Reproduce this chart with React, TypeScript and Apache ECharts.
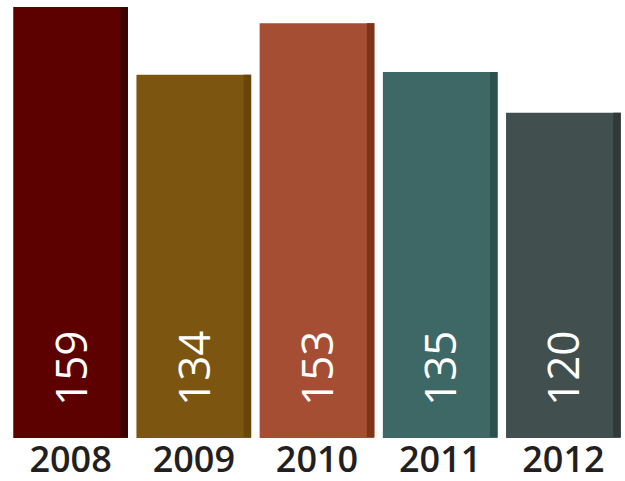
import React, { useEffect, useRef } from "react";
import * as echarts from "echarts";

const years = ["2008", "2009", "2010", "2011", "2012"];
const values = [159, 134, 153, 135, 120];
const faceColors = ["#5c0000", "#7c5511", "#a54e33", "#3e6866", "#414f4e"];
const sideColors = ["#3d0000", "#684508", "#7d3419", "#2c504d", "#2f3a39"];

export default function App() {
  const ref = useRef<HTMLDivElement>(null);
  useEffect(() => {
    const chart = echarts.init(ref.current!, undefined, { renderer: "svg" });
    chart.setOption({
      animation: false,
      grid: { left: 9, right: -1, top: 7, bottom: 43, containLabel: false },
      xAxis: {
        type: "category",
        data: years,
        axisLine: { show: false },
        axisTick: { show: false },
        axisLabel: {
          margin: 2,
          fontSize: 36,
          lineHeight: 36,
          fontWeight: 600,
          fontFamily: "Open Sans",
          color: "#231f20",
        },
      },
      yAxis: { type: "value", min: 0, max: 159, show: false, splitLine: { show: false } },
      series: [
        {
          type: "custom",
          data: values.map((v, i) => [i, v]),
          encode: { x: 0, y: 1 },
          renderItem: (params: any, api: any) => {
            const idx = api.value(0);
            const v = api.value(1);
            const top = api.coord([idx, v]);
            const base = api.coord([idx, 0]);
            const cw = api.size([1, 0])[0];
            const bw = cw * 0.931;
            const side = 7.5;
            const left = top[0] - bw / 2;
            const h = base[1] - top[1];
            return {
              type: "group",
              children: [
                {
                  type: "rect",
                  shape: { x: left, y: top[1], width: bw, height: h },
                  style: { fill: faceColors[params.dataIndex] },
                },
                {
                  type: "rect",
                  shape: { x: left + bw - side, y: top[1], width: side, height: h - 1 },
                  style: { fill: sideColors[params.dataIndex] },
                },
                {
                  type: "text",
                  x: top[0] - 1,
                  y: base[1] - 32,
                  rotation: Math.PI / 2,
                  style: {
                    text: String(v),
                    fill: "#ffffff",
                    fontFamily: "Open Sans",
                    fontSize: 44,
                    fontWeight: "normal",
                    align: "left",
                    verticalAlign: "middle",
                  },
                },
              ],
            };
          },
        },
      ],
    });
    return () => chart.dispose();
  }, []);
  return (
    <div
      ref={ref}
      style={{ position: "fixed", left: 0, top: 0, width: 625, height: 481, background: "#fff" }}
    />
  );
}
